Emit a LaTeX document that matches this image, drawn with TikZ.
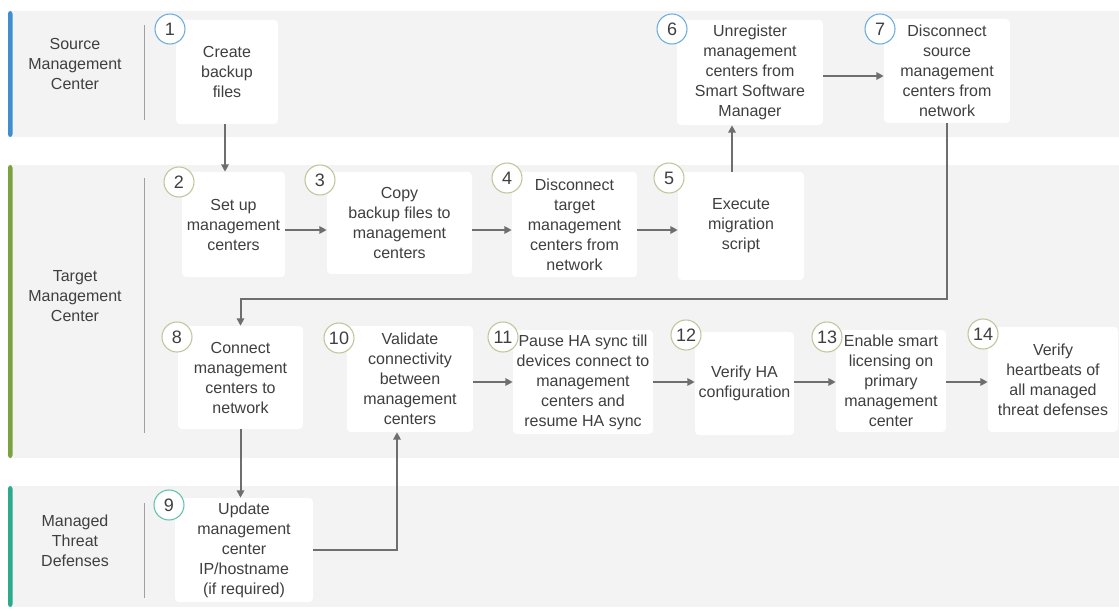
\documentclass[tikz,border=0pt]{standalone}
\usepackage{xcolor}
\usepackage{fontspec}
\setmainfont{Liberation Sans}
\usepackage{tikz}
\usetikzlibrary{arrows.meta}

\definecolor{lanegray}{HTML}{F3F3F3}
\definecolor{txtgray}{HTML}{3F3F3F}
\definecolor{arrowgray}{HTML}{6E6E6E}
\definecolor{sepgray}{HTML}{A0A0A0}
\definecolor{srcblue}{HTML}{3E8ED0}
\definecolor{srcring}{HTML}{6AAEDD}
\definecolor{tgtgreen}{HTML}{7BA23F}
\definecolor{tgtring}{HTML}{BCC79A}
\definecolor{ftdteal}{HTML}{2BAA8C}
\definecolor{ftdring}{HTML}{62C3AB}

\begin{document}
\begin{tikzpicture}[x=0.75pt,y=-0.75pt,
    stepbox/.style={fill=white,rounded corners=3pt,align=center,inner sep=0pt,
        text=txtgray,font=\fontsize{12}{15}\selectfont},
    num/.style={circle,draw=#1,line width=0.8pt,fill=white,inner sep=0pt,
        minimum size=22.5pt,text=txtgray,font=\fontsize{13.5}{14}\selectfont},
    lanelabel/.style={align=center,text=txtgray,font=\fontsize{12}{15}\selectfont},
    sep/.style={draw=sepgray,line width=0.6pt},
    flow/.style={draw=arrowgray,line width=1.5pt,-{Triangle[length=5.5pt,width=5.5pt]}}]
    \useasboundingbox (0,0) rectangle (1119,609);
    \fill[white] (0,0) rectangle (1119,609);

    % lanes
    \fill[lanegray] (8,11) rectangle (1119,137);
    \fill[lanegray] (8,165) rectangle (1119,458);
    \fill[lanegray] (8,486) rectangle (1119,607);
    \fill[srcblue,rounded corners=2pt] (8,11) rectangle (12.5,137);
    \fill[tgtgreen,rounded corners=2pt] (8,165) rectangle (12.5,458);
    \fill[ftdteal,rounded corners=2pt] (8,486) rectangle (12.5,607);
    \draw[sep] (144,25) -- (144,120);
    \draw[sep] (144,178) -- (144,433);
    \draw[sep] (144,503) -- (144,598);
    \node[lanelabel] (srclabel) at (75,64) {Source\\Management\\Center};
    \node[lanelabel] (tgtlabel) at (75,296) {Target\\Management\\Center};
    \node[lanelabel] (ftdlabel) at (75,541) {Managed\\Threat\\Defenses};

    % steps
    \node[stepbox,minimum width=76.5pt,minimum height=78pt] (b1) at (227,72) {Create\\backup\\files};
    \node[stepbox,minimum width=77.25pt,minimum height=78.75pt] (b2) at (233.5,224.5) {Set up\\management\\centers};
    \node[stepbox,minimum width=108.75pt,minimum height=76.5pt] (b3) at (399.5,223) {Copy\\backup files to\\management\\centers};
    \node[stepbox,minimum width=93.75pt,minimum height=78.75pt] (b4) at (574.5,224.5) {Disconnect\\target\\management\\centers from\\network};
    \node[stepbox,minimum width=94.5pt,minimum height=81pt] (b5) at (741,226) {Execute\\migration\\script};
    \node[stepbox,minimum width=109.5pt,minimum height=78.75pt] (b6) at (750,72.5) {Unregister\\management\\centers from\\Smart Software\\Manager};
    \node[stepbox,minimum width=94.5pt,minimum height=78pt] (b7) at (947,71) {Disconnect\\source\\management\\centers from\\network};
    \node[stepbox,minimum width=93.75pt,minimum height=77.25pt] (b8) at (240.5,377.5) {Connect\\management\\centers to\\network};
    \node[stepbox,minimum width=103.5pt,minimum height=78pt] (b9) at (244,550) {Update\\management\\center\\IP/hostname\\(if required)};
    \node[stepbox,minimum width=94.5pt,minimum height=79.5pt] (b10) at (410,379) {Validate\\connectivity\\between\\management\\centers};
    \node[stepbox,minimum width=105pt,minimum height=78pt] (b11) at (583,382) {Pause HA sync till\\devices connect to\\management\\centers and\\resume HA sync};
    \node[stepbox,minimum width=74.25pt,minimum height=77.25pt] (b12) at (744.5,383.5) {Verify HA\\configuration};
    \node[stepbox,minimum width=82.5pt,minimum height=76.5pt] (b13) at (891,381) {Enable smart\\licensing on\\primary\\management\\center};
    \node[stepbox,minimum width=97.5pt,minimum height=78.75pt] (b14) at (1053,379.5) {Verify\\heartbeats of\\all managed\\threat defenses};

    % step numbers
    \node[num=srcring] (n1) at (170,29) {1};
    \node[num=srcring] (n6) at (672,29) {6};
    \node[num=srcring] (n7) at (880,29) {7};
    \node[num=tgtring] (n2) at (179,182) {2};
    \node[num=tgtring] (n3) at (320,180) {3};
    \node[num=tgtring] (n4) at (507,178) {4};
    \node[num=tgtring] (n5) at (669,178) {5};
    \node[num=tgtring] (n8) at (177,337) {8};
    \node[num=tgtring] (n10) at (339,338) {10};
    \node[num=tgtring] (n11) at (503,337) {11};
    \node[num=tgtring] (n12) at (686,335) {12};
    \node[num=tgtring] (n13) at (827,337) {13};
    \node[num=tgtring] (n14) at (983,334) {14};
    \node[num=ftdring] (n9) at (169,505) {9};

    % flow
    \coordinate (row1) at (0,76);
    \coordinate (row2) at (0,230);
    \coordinate (row3) at (0,382);
    \coordinate (bend78) at (600,299);
    \coordinate (s5) at ([xshift=-6.75pt]b5.north);
    \coordinate (s1) at ([xshift=-1.5pt]b1.south);
    \draw[flow] (s1) -- (s1 |- b2.north);
    \draw[flow] (b2.east |- row2) -- (b3.west |- row2);
    \draw[flow] (b3.east |- row2) -- (b4.west |- row2);
    \draw[flow] (b4.east |- row2) -- (b5.west |- row2);
    \draw[flow] (s5) -- (s5 |- b6.south);
    \draw[flow] (b6.east |- row1) -- (b7.west |- row1);
    \draw[flow] (b7.south) |- (bend78) -| (b8.north);
    \draw[flow] (b8.south) -- (b8.south |- b9.north);
    \draw[flow] (b9.east) -| ([xshift=-9.75pt]b10.south);
    \draw[flow] (b10.east |- row3) -- (b11.west |- row3);
    \draw[flow] (b11.east |- row3) -- (b12.west |- row3);
    \draw[flow] (b12.east |- row3) -- (b13.west |- row3);
    \draw[flow] (b13.east |- row3) -- (b14.west |- row3);
\end{tikzpicture}
\end{document}
